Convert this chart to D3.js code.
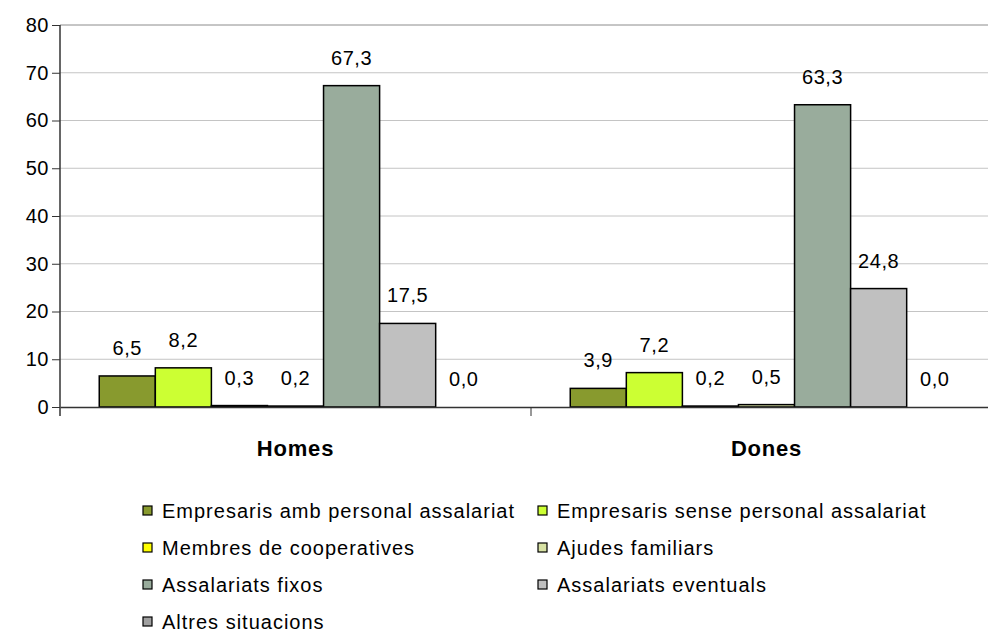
<!DOCTYPE html>
<html><head><meta charset="utf-8">
<script src="https://cdn.jsdelivr.net/npm/d3@7"></script>
<style>body{margin:0;background:#fff;} svg{display:block;font-family:"Liberation Sans",Arial,sans-serif;}</style>
</head><body><svg id="c" width="988" height="633"></svg>
<script>
const categories = ["Homes", "Dones"];
const seriesNames = ["Empresaris amb personal assalariat","Empresaris sense personal assalariat","Membres de cooperatives","Ajudes familiars","Assalariats fixos","Assalariats eventuals","Altres situacions"];
const seriesColors = ["#889a2e","#ccff33","#ffff00","#d8e2a4","#99ac9c","#c0c0c0","#a0a0a0"];
const homesValues = [6.5, 8.2, 0.3, 0.2, 67.3, 17.5, 0.0];
const donesValues = [3.9, 7.2, 0.2, 0.5, 63.3, 24.8, 0.0];
const yTicks = [0,10,20,30,40,50,60,70,80];

(function(){
const values = [homesValues, donesValues];
const svg = d3.select("#c");
const pL = 60, pR = 1002, pT = 25, pB = 407;
const x0 = d3.scaleBand().domain(categories).range([pL, pR]).paddingInner(0).paddingOuter(0);
const inner = d3.scaleBand().domain(d3.range(seriesNames.length)).range([0, x0.bandwidth()]).paddingOuter(0.7).paddingInner(0);
const y = d3.scaleLinear().domain([0,80]).range([pB, pT]);

// gridlines
svg.append("g").selectAll("line").data(yTicks.filter(d=>d>0)).join("line")
  .attr("x1", pL).attr("x2", pR).attr("y1", d=>y(d)).attr("y2", d=>y(d))
  .attr("stroke", d=> d===80 ? "#8c8c8c" : "#c4c4c4").attr("stroke-width", 1);

// y axis
const ya = svg.append("g").attr("transform", `translate(${pL},0)`)
  .call(d3.axisLeft(y).tickValues(yTicks).tickSize(8).tickPadding(3));
ya.select(".domain").remove();
ya.selectAll(".tick line").attr("stroke", "#333");
ya.selectAll("text").attr("font-size", 20).attr("fill", "#000").attr("font-family", "Liberation Sans, Arial, sans-serif").attr("letter-spacing", 0.5);
svg.append("line").attr("x1", pL).attr("x2", pL).attr("y1", pT).attr("y2", pB + 9)
  .attr("stroke", "#333").attr("stroke-width", 1.5);

// bars
categories.forEach((cat, ci) => {
  const g = svg.append("g").attr("transform", `translate(${x0(cat)},0)`);
  g.selectAll("rect").data(values[ci]).join("rect")
    .attr("x", (d,i)=>inner(i)).attr("width", inner.bandwidth())
    .attr("y", d=>y(d)).attr("height", d=>y(0)-y(d))
    .attr("fill", (d,i)=>seriesColors[i]).attr("stroke", "#000").attr("stroke-width", d=> d>0 ? 1.5 : 0);
  g.selectAll("text").data(values[ci]).join("text")
    .attr("x", (d,i)=>inner(i)+inner.bandwidth()/2).attr("y", d=>y(d)-21)
    .attr("text-anchor", "middle").attr("font-size", 20).attr("letter-spacing", 0.6).attr("fill", "#000")
    .text(d=>d.toFixed(1).replace(".", ","));
});

// x axis
const xa = svg.append("g").attr("transform", `translate(0,${pB})`)
  .call(d3.axisBottom(x0).tickSize(0).tickPadding(33));
xa.select(".domain").attr("stroke", "#333").attr("stroke-width", 1.5);
xa.selectAll("text").attr("font-size", 22).attr("font-weight", "bold").attr("letter-spacing", 0.8).attr("fill", "#000").attr("font-family", "Liberation Sans, Arial, sans-serif");
svg.append("g").selectAll("line").data([x0("Dones")]).join("line")
  .attr("x1", d=>d).attr("x2", d=>d).attr("y1", pB).attr("y2", pB+9).attr("stroke", "#333");

// legend
const legendCols = [143, 538];
const lg = svg.append("g");
seriesNames.forEach((name, i) => {
  const col = i % 2, row = Math.floor(i / 2);
  const lx = legendCols[col], ly = 511 + row * 37;
  lg.append("rect").attr("x", lx).attr("y", ly-5).attr("width", 9).attr("height", 9)
    .attr("fill", seriesColors[i]).attr("stroke", "#000").attr("stroke-width", 1.2);
  lg.append("text").attr("x", lx+19).attr("y", ly+7).attr("font-size", 20).attr("letter-spacing", 1).attr("fill", "#000").text(name);
});
})();
</script></body></html>
